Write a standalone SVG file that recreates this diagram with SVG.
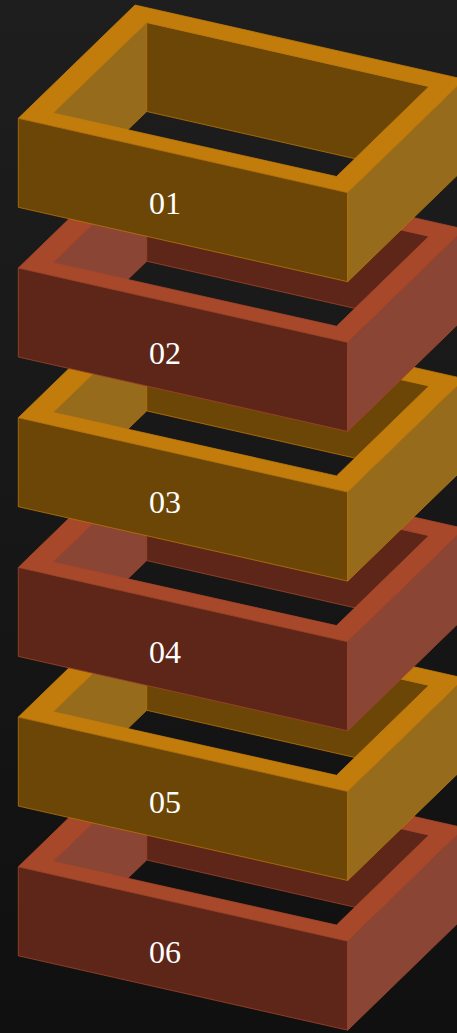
<svg xmlns="http://www.w3.org/2000/svg" width="457" height="1033" viewBox="0 0 457 1033">
<defs>
<linearGradient id="bg" x1="0" y1="0" x2="0" y2="1">
<stop offset="0" stop-color="#1e1e1e"/>
<stop offset="1" stop-color="#101010"/>
</linearGradient>
<style>
.y .rim{fill:#c27c0b;stroke:#c27c0b}
.y .front,.y .innerB{fill:#6c4606;stroke:#b8750c}
.y .right,.y .innerL{fill:#976b1c;stroke:#b8750c}
.r .rim{fill:#a7482b;stroke:#a7482b}
.r .front,.r .innerB{fill:#5e2619;stroke:#a0452a}
.r .right,.r .innerL{fill:#8b4534;stroke:#a0452a}
path{stroke-width:0.8;stroke-linejoin:round}
.rim{fill-rule:evenodd}
.lbl{font-family:"Liberation Serif","DejaVu Serif",serif;font-size:32px;fill:#ffffff;text-anchor:middle}
</style>
</defs>
<rect width="457" height="1033" fill="url(#bg)"/>

<g id="box-06" class="r" transform="translate(0,748.5)">
<path class="innerL" d="M53,113 L146.7,22.5 L146.7,111.5 L53,202 Z"/>
<path class="innerB" d="M146.7,22.5 L429,86.5 L429,175.5 L146.7,111.5 Z"/>
<path class="rim" d="M18.3,118.3 L135,5 L464.4,79.4 L347.7,192.7 Z M53,113 L336.5,176.5 L429,86.5 L146.7,22.5 Z"/>
<path class="front" d="M18.3,118.3 L347.7,192.7 L347.7,281.7 L18.3,207.3 Z"/>
<path class="right" d="M347.7,192.7 L464.4,79.4 L464.4,168.4 L347.7,281.7 Z"/>
<text class="lbl" x="165" y="214">06</text>
</g>

<g id="box-05" class="y" transform="translate(0,598.8)">
<path class="innerL" d="M53,113 L146.7,22.5 L146.7,111.5 L53,202 Z"/>
<path class="innerB" d="M146.7,22.5 L429,86.5 L429,175.5 L146.7,111.5 Z"/>
<path class="rim" d="M18.3,118.3 L135,5 L464.4,79.4 L347.7,192.7 Z M53,113 L336.5,176.5 L429,86.5 L146.7,22.5 Z"/>
<path class="front" d="M18.3,118.3 L347.7,192.7 L347.7,281.7 L18.3,207.3 Z"/>
<path class="right" d="M347.7,192.7 L464.4,79.4 L464.4,168.4 L347.7,281.7 Z"/>
<text class="lbl" x="165" y="214">05</text>
</g>

<g id="box-04" class="r" transform="translate(0,449.1)">
<path class="innerL" d="M53,113 L146.7,22.5 L146.7,111.5 L53,202 Z"/>
<path class="innerB" d="M146.7,22.5 L429,86.5 L429,175.5 L146.7,111.5 Z"/>
<path class="rim" d="M18.3,118.3 L135,5 L464.4,79.4 L347.7,192.7 Z M53,113 L336.5,176.5 L429,86.5 L146.7,22.5 Z"/>
<path class="front" d="M18.3,118.3 L347.7,192.7 L347.7,281.7 L18.3,207.3 Z"/>
<path class="right" d="M347.7,192.7 L464.4,79.4 L464.4,168.4 L347.7,281.7 Z"/>
<text class="lbl" x="165" y="214">04</text>
</g>

<g id="box-03" class="y" transform="translate(0,299.4)">
<path class="innerL" d="M53,113 L146.7,22.5 L146.7,111.5 L53,202 Z"/>
<path class="innerB" d="M146.7,22.5 L429,86.5 L429,175.5 L146.7,111.5 Z"/>
<path class="rim" d="M18.3,118.3 L135,5 L464.4,79.4 L347.7,192.7 Z M53,113 L336.5,176.5 L429,86.5 L146.7,22.5 Z"/>
<path class="front" d="M18.3,118.3 L347.7,192.7 L347.7,281.7 L18.3,207.3 Z"/>
<path class="right" d="M347.7,192.7 L464.4,79.4 L464.4,168.4 L347.7,281.7 Z"/>
<text class="lbl" x="165" y="214">03</text>
</g>

<g id="box-02" class="r" transform="translate(0,149.7)">
<path class="innerL" d="M53,113 L146.7,22.5 L146.7,111.5 L53,202 Z"/>
<path class="innerB" d="M146.7,22.5 L429,86.5 L429,175.5 L146.7,111.5 Z"/>
<path class="rim" d="M18.3,118.3 L135,5 L464.4,79.4 L347.7,192.7 Z M53,113 L336.5,176.5 L429,86.5 L146.7,22.5 Z"/>
<path class="front" d="M18.3,118.3 L347.7,192.7 L347.7,281.7 L18.3,207.3 Z"/>
<path class="right" d="M347.7,192.7 L464.4,79.4 L464.4,168.4 L347.7,281.7 Z"/>
<text class="lbl" x="165" y="214">02</text>
</g>

<g id="box-01" class="y">
<path class="innerL" d="M53,113 L146.7,22.5 L146.7,111.5 L53,202 Z"/>
<path class="innerB" d="M146.7,22.5 L429,86.5 L429,175.5 L146.7,111.5 Z"/>
<path class="rim" d="M18.3,118.3 L135,5 L464.4,79.4 L347.7,192.7 Z M53,113 L336.5,176.5 L429,86.5 L146.7,22.5 Z"/>
<path class="front" d="M18.3,118.3 L347.7,192.7 L347.7,281.7 L18.3,207.3 Z"/>
<path class="right" d="M347.7,192.7 L464.4,79.4 L464.4,168.4 L347.7,281.7 Z"/>
<text class="lbl" x="165" y="214">01</text>
</g>
</svg>
